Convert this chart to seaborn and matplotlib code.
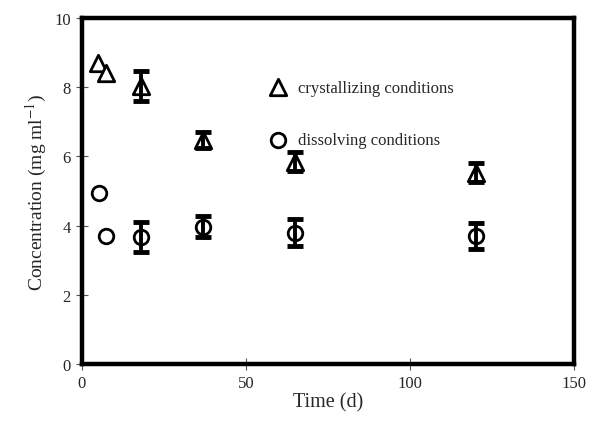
import pandas as pd
import seaborn as sns
import matplotlib.pyplot as plt

sns.set_style("ticks")
plt.rcParams['font.family'] = ['Liberation Serif', 'DejaVu Serif']
plt.rcParams['mathtext.fontset'] = 'stix'

# Values
time_cryst = [5, 7.5, 18, 37, 65, 120]
conc_cryst = [8.7, 8.4, 8.03, 6.47, 5.85, 5.53]
err_cryst = [0, 0, 0.43, 0.23, 0.27, 0.27]

time_diss = [5.3, 7.2, 18, 37, 65, 120]
conc_diss = [4.93, 3.7, 3.67, 3.97, 3.8, 3.7]
err_diss = [0, 0, 0.43, 0.3, 0.39, 0.38]

x_ticks = [0, 50, 100, 150]
y_ticks = [0, 2, 4, 6, 8, 10]

df_c = pd.DataFrame({'Time': time_cryst, 'Conc': conc_cryst, 'Err': err_cryst})
df_d = pd.DataFrame({'Time': time_diss, 'Conc': conc_diss, 'Err': err_diss})

fig = plt.figure(figsize=(5.89, 4.35), dpi=100)
ax = fig.add_axes([0.139, 0.161, 0.836, 0.795])

# markers
sns.scatterplot(data=df_c, x='Time', y='Conc', marker='^', s=140, facecolor='white',
                edgecolor='black', linewidth=2.0, ax=ax, label='crystallizing conditions', zorder=3)
sns.scatterplot(data=df_d, x='Time', y='Conc', marker='o', s=110, facecolor='white',
                edgecolor='black', linewidth=2.0, ax=ax, label='dissolving conditions', zorder=3)

# error bars (only where there is an error)
for d in (df_c, df_d):
    e = d[d['Err'] > 0]
    ax.errorbar(e['Time'], e['Conc'], yerr=e['Err'], fmt='none', ecolor='black',
                elinewidth=2.8, capsize=6, capthick=3.5, zorder=4)

ax.set_xlim(0, 150)
ax.set_ylim(0, 10)
ax.set_xticks(x_ticks)
ax.set_yticks(y_ticks)
ax.tick_params(direction='inout', length=8, width=0.8, color='#555555',
               labelsize=12, pad=4)
for sp in ax.spines.values():
    sp.set_visible(True)
    sp.set_linewidth(3.2)
    sp.set_color('black')

ax.set_xlabel('Time (d)', fontsize=14.5, labelpad=1)
ax.set_ylabel('Concentration (mg ml$^{-1}$)', fontsize=14, labelpad=4)

leg = ax.legend(loc='upper left', bbox_to_anchor=(0.335, 0.865), frameon=False,
                fontsize=12, labelspacing=2.2, handletextpad=0.15, markerscale=1.0)

plt.savefig('out.png', dpi=100)
